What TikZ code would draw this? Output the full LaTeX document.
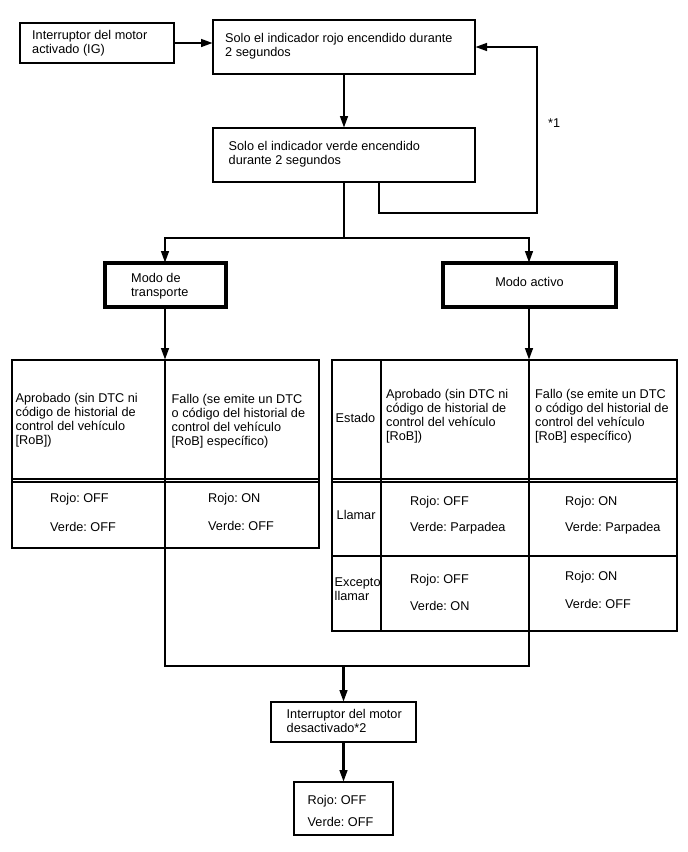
\documentclass[tikz,border=0pt]{standalone}
\usepackage{fontspec}
\setmainfont{Liberation Sans}
\usetikzlibrary{arrows.meta}
\frenchspacing
\begin{document}
\begin{tikzpicture}[x=1pt,y=-1pt,
  box/.style={draw, line width=1.2pt, inner sep=0pt, outer sep=0pt},
  modebox/.style={draw, line width=4pt, inner sep=0pt, outer sep=0pt},
  conn/.style={line width=2.7pt},
  arr/.style={conn, -{Triangle[length=12pt,width=7.5pt]}},
  txt/.style={inner sep=0pt, anchor=base west, align=left, font=\fontsize{12.7}{14}\selectfont\frenchspacing},
  tline/.style={line width=1.2pt}]
\fill[white] (0,0) rectangle (688,852);
\useasboundingbox (0,0) rectangle (688,852);

% boxes (multi-line text nodes are placed at the baseline of their last line)
\node[box, minimum width=154pt, minimum height=40pt] (b1) at (97,43) {};
\node[txt] (b1t) at (32,53) {Interruptor del motor\\activado (IG)};
\node[box, minimum width=262pt, minimum height=54pt] (b2) at (344,47) {};
\node[txt] (b2t) at (225,56) {Solo el indicador rojo encendido durante\\2 segundos};
\node[box, minimum width=262pt, minimum height=54pt] (b3) at (344,155) {};
\node[txt] (b3t) at (228.5,164) {Solo el indicador verde encendido\\durante 2 segundos};
\node[txt] (n1) at (548,127) {*1};

\node[modebox, minimum width=121pt, minimum height=44pt] (mt) at (165,285) {};
\node[txt] (mtt) at (131,296) {Modo de\\transporte};
\node[modebox, minimum width=173pt, minimum height=44pt] (ma) at (529,285) {};
\node[txt, anchor=base] (mat) at (529.5,286) {Modo activo};

% left table
\node[box, minimum width=307pt, minimum height=188pt] (LT) at (165.5,454) {};
\coordinate (lc) at (165,0);
\draw[tline] (lc |- LT.north) -- (lc |- LT.south);
\draw[tline] (LT.west |- 0,479) -- (LT.east |- 0,479);
\draw[tline] (LT.west |- 0,482) -- (LT.east |- 0,482);
\node[txt] (lh1) at (15.5,444.5) {Aprobado (sin DTC ni\\código de historial de\\control del vehículo\\{[RoB]})};
\node[txt] (lh2) at (171.5,445) {Fallo (se emite un DTC\\o código del historial de\\control del vehículo\\{[RoB]} específico)};
\node[txt] (l1a) at (50,502.3) {Rojo: OFF};
\node[txt] (l1b) at (50,531.7) {Verde: OFF};
\node[txt] (l2a) at (208,502.5) {Rojo: ON};
\node[txt] (l2b) at (208,530.7) {Verde: OFF};

% right table
\node[box, minimum width=345pt, minimum height=271pt] (RT) at (504.5,495.5) {};
\coordinate (rc1) at (381,0);
\coordinate (rc2) at (529,0);
\draw[tline] (rc1 |- RT.north) -- (rc1 |- RT.south);
\draw[tline] (rc2 |- RT.north) -- (rc2 |- RT.south);
\draw[tline] (RT.west |- 0,479) -- (RT.east |- 0,479);
\draw[tline] (RT.west |- 0,482) -- (RT.east |- 0,482);
\draw[tline] (RT.west |- 0,556) -- (RT.east |- 0,556);
\node[txt] (rs) at (335.5,422.3) {Estado};
\node[txt] (rl) at (336.5,519) {Llamar};
\node[txt] (re) at (334.5,600) {Excepto\\llamar};
\node[txt] (rh1) at (386,440.3) {Aprobado (sin DTC ni\\código de historial de\\control del vehículo\\{[RoB]})};
\node[txt] (rh2) at (535,440.3) {Fallo (se emite un DTC\\o código del historial de\\control del vehículo\\{[RoB]} específico)};
\node[txt] (r1a) at (410,505.7) {Rojo: OFF};
\node[txt] (r1b) at (410,531.7) {Verde: Parpadea};
\node[txt] (r2a) at (565,505) {Rojo: ON};
\node[txt] (r2b) at (565,531.7) {Verde: Parpadea};
\node[txt] (r3a) at (410,583.3) {Rojo: OFF};
\node[txt] (r3b) at (410,610.3) {Verde: ON};
\node[txt] (r4a) at (565,580) {Rojo: ON};
\node[txt] (r4b) at (565,608.3) {Verde: OFF};

% bottom boxes
\node[box, minimum width=145pt, minimum height=40pt] (bd) at (343.5,722) {};
\node[txt] (bdt) at (286.5,732.3) {Interruptor del motor\\desactivado*2};
\node[box, minimum width=99pt, minimum height=53pt] (bf) at (343.5,808.5) {};
\node[txt] (bf1) at (307.5,804.3) {Rojo: OFF};
\node[txt] (bf2) at (307.5,826) {Verde: OFF};

% connectors
\coordinate (split) at (344,238);
\coordinate (fb1) at (379,213);
\coordinate (fb2) at (537,47);
\coordinate (m1) at (165,666);
\coordinate (m2) at (529,666);

\draw[arr] (b1.east) -- (b1.east -| b2.west);
\draw[arr] (b2.south) -- (b3.north);
\draw[conn] (b3.south) -- (split);
\draw[arr] (split) -| (mt.north);
\draw[arr] (split) -| (ma.north);
\draw[arr] (fb1 |- b3.south) -- (fb1) -| (fb2) -- (fb2 -| b2.east);
\draw[arr] (mt.south) -- (mt.south |- LT.north);
\draw[arr] (ma.south) -- (ma.south |- RT.north);
\draw[conn] (m1 |- LT.south) -- (m1) -- (m2) -- (m2 |- RT.south);
\draw[arr] (bd.north |- m1) -- (bd.north);
\draw[arr] (bd.south) -- (bf.north);
\end{tikzpicture}
\end{document}
